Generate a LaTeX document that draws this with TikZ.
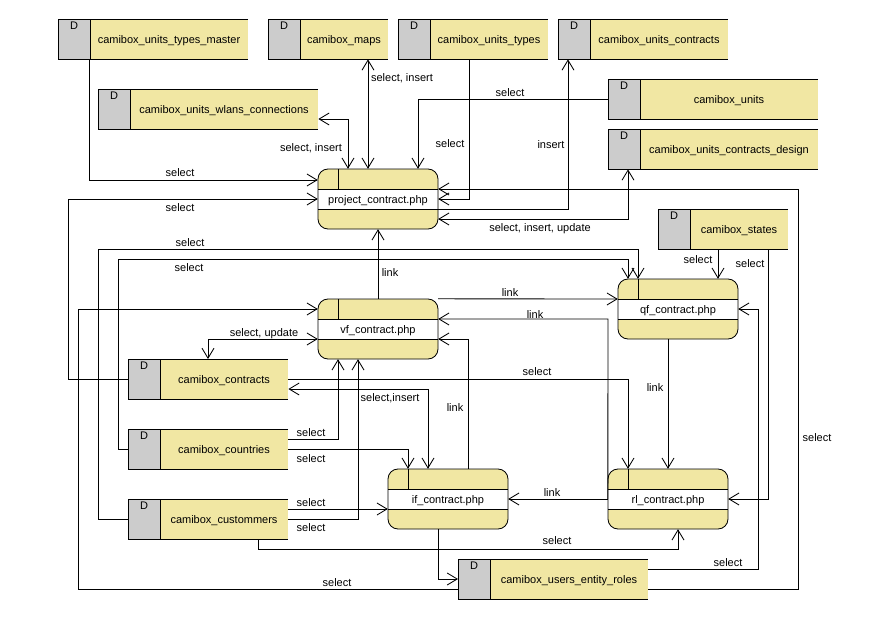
\documentclass[tikz,border=0pt]{standalone}
\usepackage{fontspec}
\setmainfont{Liberation Sans}
\usetikzlibrary{arrows.meta,calc}
\definecolor{dsyellow}{RGB}{241,231,163}
\definecolor{dsgray}{RGB}{204,204,204}
\tikzset{
  line/.style={draw=black, line width=0.85pt},
  arr/.style={line, -{Straight Barb[length=10pt,width=12pt]}},
  arrtwo/.style={line, {Straight Barb[length=10pt,width=12pt]}-{Straight Barb[length=10pt,width=12pt]}},
  txt/.style={font=\fontsize{11}{13}\selectfont, inner sep=0pt, text height=10.5pt, text depth=1pt},
  lbl/.style={txt},
  storebox/.style={anchor=north west, fill=dsyellow, inner sep=0pt, minimum height=40pt, draw=none},
  procbox/.style={fill=dsyellow, minimum width=120pt, minimum height=60pt, rounded corners=10pt, inner sep=0pt, draw=none},
}
\newcommand\mkstore[5]{%
  \node[storebox, minimum width={(#4-#2)*1pt}] (#1) at (#2,#3) {};
  \fill[dsgray] (#2,#3) rectangle (#2+32,#3+40);
  \draw[line] (#4,#3) -- (#2,#3) -- (#2,#3+40) -- (#4,#3+40) (#2+32,#3) -- (#2+32,#3+40);
  \node[txt] at ({(#2+32+#4)/2},#3+20) {#5};
  \node[txt] at (#2+16,#3+5.5) {D};
}
\newcommand\mkproc[4]{%
  \node[procbox] (#1) at (#2,#3) {};
  \fill[white] (#2-59.6,#3-10) rectangle (#2+59.6,#3+10);
  \draw[line] (#2-60,#3-10) -- (#2+60,#3-10) (#2-60,#3+10) -- (#2+60,#3+10) (#2-40,#3-30) -- (#2-40,#3-10);
  \draw[line, rounded corners=10pt] (#2-60,#3-30) rectangle (#2+60,#3+30);
  \node[txt] at (#2,#3) {#4};
}
\begin{document}
\begin{tikzpicture}[x=1pt,y=-1pt]
\useasboundingbox (0,0) rectangle (870,619);
\fill[white] (0,0) rectangle (870,619);
% data stores
\mkstore{utm}{58}{19}{248}{camibox\_units\_types\_master}
\mkstore{maps}{268}{19}{388}{camibox\_maps}
\mkstore{ut}{398}{19}{548}{camibox\_units\_types}
\mkstore{uc}{558}{19}{728}{camibox\_units\_contracts}
\mkstore{wlan}{98}{89}{318}{camibox\_units\_wlans\_connections}
\mkstore{units}{608}{79}{818}{camibox\_units}
\mkstore{ucd}{608}{129}{818}{camibox\_units\_contracts\_design}
\mkstore{states}{658}{209}{788}{camibox\_states}
\mkstore{contracts}{128}{359}{288}{camibox\_contracts}
\mkstore{countries}{128}{429}{288}{camibox\_countries}
\mkstore{cust}{128}{499}{288}{camibox\_custommers}
\mkstore{uer}{458}{559}{648}{camibox\_users\_entity\_roles}
% processes
\mkproc{project}{378}{199}{project\_contract.php}
\mkproc{vf}{378}{329}{vf\_contract.php}
\mkproc{qf}{678}{309}{qf\_contract.php}
\mkproc{iff}{448}{499}{if\_contract.php}
\mkproc{rl}{668}{499}{rl\_contract.php}
% connectors
\draw[arr] (utm.south -| 89,0) |- (project.west |- 0,180);
\node[lbl] at (180,172) {select};
\draw[arrtwo] (wlan.east |- 0,119) -| (project.north -| 348,0);
\node[lbl] at (311,147) {select, insert};
\draw[arrtwo] (maps.south -| 368,0) -- (project.north -| 368,0);
\node[lbl] at (402,77) {select, insert};
\draw[arr] (units.west |- 0,99) -| (project.north -| 418,0);
\node[lbl] at (510,92) {select};
\draw[arr] (ut.south -| 469,0) |- (project.east |- 0,199);
\node[lbl] at (450,143) {select};
\draw[arr] (project.east |- 0,209) -| (uc.south -| 568,0);
\node[lbl] at (551,144) {insert};
\draw[arrtwo] (project.east |- 0,219) -| (ucd.south -| 628,0);
\node[lbl] at (540,227) {select, insert, update};
\draw[arr] (uer.east |- 0,589) -| (798,189) -- (project.east |- 0,189);
\node[lbl] at (817,437) {select};
\draw[arr] (contracts.west |- 0,379) -| (68,199) -- (project.west |- 0,199);
\node[lbl] at (180,207) {select};
\draw[arr] (cust.west |- 0,519) -| (98,249) -| (qf.north -| 638,0);
\node[lbl] at (190,242) {select};
\draw[arr] (countries.west |- 0,449) -| (118,259) -| (qf.north -| 628,0);
\node[lbl] at (189,267) {select};
\draw[arr] (uer.west |- 0,589) -| (78,309) -- (vf.west |- 0,309);
\node[lbl] at (337,582) {select};
\draw[arrtwo] (vf.west |- 0,339) -| (contracts.north -| 208,0);
\node[lbl] at (264,332) {select, update};
\draw[arr] (vf.north -| 378,0) -- (project.south -| 378,0);
\node[lbl] at (390,272) {link};
\draw[arr] (vf.north east) -- (qf.west |- 0,299);
\node[lbl] at (510,292) {link};
\draw[arr] (rl.west) -- (608,319) -- (vf.east |- 0,319);
\node[lbl] at (535,314) {link};
\draw[arr] (iff.north -| 468,0) |- (vf.east |- 0,339);
\node[lbl] at (455,407) {link};
\draw[arr] (qf.south -| 668,0) -- (rl.north -| 668,0);
\node[lbl] at (655,387) {link};
\draw[arr] (contracts.east |- 0,379) -| (rl.north -| 628,0);
\node[lbl] at (537,371) {select};
\draw[arrtwo] (contracts.east |- 0,389) -| (iff.north -| 428,0);
\node[lbl] at (390,397) {select,insert};
\draw[arr] (countries.east |- 0,439) -| (vf.south -| 338,0);
\node[lbl] at (311,432) {select};
\draw[arr] (countries.east |- 0,449) -| (iff.north -| 408,0);
\node[lbl] at (311,458) {select};
\draw[arr] (cust.east |- 0,509) -- (iff.west |- 0,509);
\node[lbl] at (311,502) {select};
\draw[arr] (cust.east |- 0,519) -| (vf.south -| 358,0);
\node[lbl] at (311,527) {select};
\draw[arr] (cust.south -| 258,0) |- (678,549) -- (rl.south -| 678,0);
\node[lbl] at (557,540) {select};
\draw[arr] (iff.south -| 438,0) |- (uer.west |- 0,579);
\draw[arr] (rl.west) -- (iff.east |- 0,499);
\node[lbl] at (552,492) {link};
\draw[arr] (states.south -| 718,0) -- (qf.north -| 718,0);
\node[lbl] at (698,259) {select};
\draw[arr] (states.south -| 768,0) |- (rl.east |- 0,499);
\node[lbl] at (750,263) {select};
\draw[arr] (uer.east |- 0,569) -| (758,309) -- (qf.east |- 0,309);
\node[lbl] at (728,562) {select};
\end{tikzpicture}
\end{document}
